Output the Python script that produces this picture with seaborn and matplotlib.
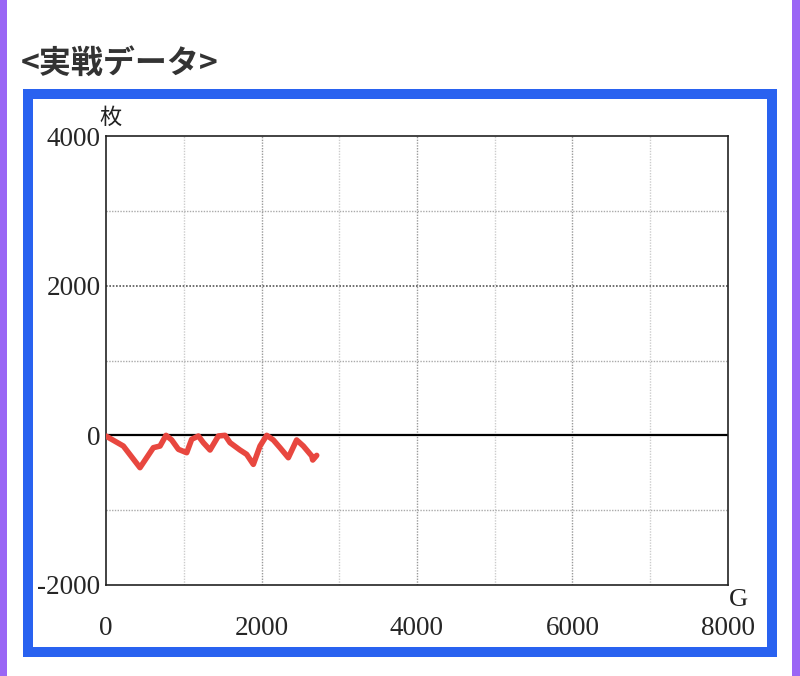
import pandas as pd
import matplotlib
matplotlib.use("Agg")
import matplotlib.pyplot as plt
import seaborn as sns
from matplotlib.patches import Rectangle

# Datos del grafico (juegos vs. fichas)
juegos = [0, 223, 437, 609, 695, 772, 845, 931, 1038, 1102, 1188, 1252, 1338,
          1445, 1531, 1595, 1723, 1809, 1895, 1981, 2067, 2152, 2238, 2345,
          2452, 2538, 2646, 2659, 2710]
fichas = [-10, -143, -432, -165, -143, 0, -62, -187, -232, -53, -9, -98, -196,
          -9, 0, -98, -196, -254, -388, -143, 0, -62, -165, -299,
          -62, -143, -276, -330, -268]
ticks_x = [0, 2000, 4000, 6000, 8000]
ticks_y = [-2000, 0, 2000, 4000]
titulo = "<実戦データ>"

df = pd.DataFrame({"G": juegos, "枚": fichas})

sns.set_style("white")
plt.rcParams['font.family'] = ['Liberation Serif', 'Noto Sans CJK JP']
plt.rcParams['axes.unicode_minus'] = False

fig = plt.figure(figsize=(8, 6.76), dpi=100)
W, H = 800, 676
ax = fig.add_axes([106 / W, 1 - 585 / H, (728 - 106) / W, (585 - 136) / H])

# Cuadricula
for v in range(1000, 8000, 1000):
    color = "#999999" if v % 2000 == 0 else "#cccccc"
    ax.axvline(v, color=color, lw=1, ls=(0, (1, 1)), zorder=0)
for v in [-1000, 1000, 3000]:
    ax.axhline(v, color="#aaaaaa", lw=1, ls=(0, (1, 1)), zorder=0)
ax.axhline(2000, color="#555555", lw=1.2, ls=(0, (1, 1)), zorder=0)
ax.axhline(0, color="black", lw=1.6, zorder=1)

sns.lineplot(data=df, x="G", y="枚", ax=ax, color="#e8473f", lw=4, zorder=3,
             solid_joinstyle="round", solid_capstyle="round")

ax.set_xlim(0, 8000)
ax.set_ylim(-2000, 4000)
ax.set_xticks(ticks_x)
ax.set_yticks(ticks_y)
ax.set_xlabel("")
ax.set_ylabel("")
ax.tick_params(axis="x", length=0, pad=22, labelsize=19.5)
ax.tick_params(axis="y", length=0, pad=4, labelsize=19.5)
for s in ax.spines.values():
    s.set_color("#222222")
    s.set_linewidth(1.2)

fig.text(111 / W, 1 - 117 / H, "枚", ha="center", va="center", fontsize=16,
         family=["Noto Sans CJK JP"], color="#222222")
fig.text(738 / W, 1 - 600 / H, "G", ha="center", va="center", fontsize=19,
         color="#222222")

# Titulo
fig.text(21 / W, 1 - 64 / H, titulo, ha="left", va="center", fontsize=23,
         fontweight="bold", family=["Noto Sans CJK JP"], color="#333333")

# Marco azul y bandas moradas
fig.add_artist(Rectangle((28 / W, 1 - 652 / H), (772 - 28) / W, (652 - 94) / H,
                         transform=fig.transFigure, fill=False,
                         edgecolor="#2962f0", lw=7.2))
fig.add_artist(Rectangle((0, 0), 7 / W, 1, transform=fig.transFigure,
                         color="#9a66f5", lw=0))
fig.add_artist(Rectangle((792 / W, 0), 8 / W, 1, transform=fig.transFigure,
                         color="#9a66f5", lw=0))

fig.savefig("out.png", dpi=100)
